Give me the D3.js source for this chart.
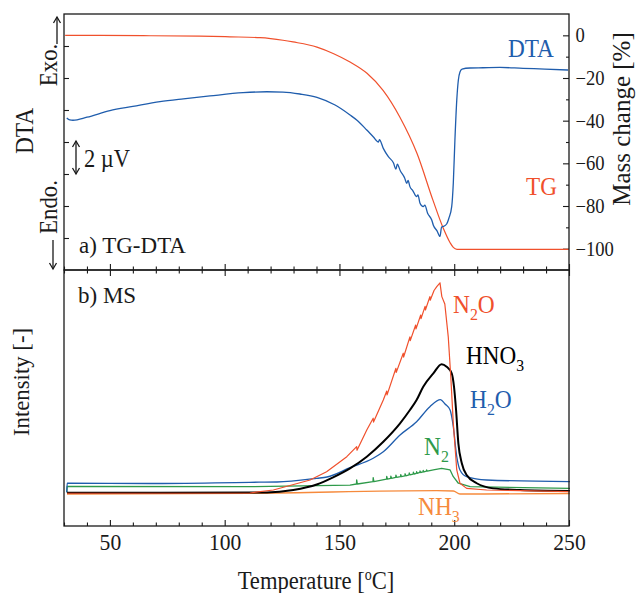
<!DOCTYPE html>
<html><head><meta charset="utf-8">
<script src="https://cdn.jsdelivr.net/npm/d3@7"></script>
<style>body{margin:0;background:#fff}svg{display:block}text{font-family:"Liberation Serif","Times New Roman",serif;}</style>
</head><body>
<script>
// ---------- data ----------
const tempTicks = [50, 100, 150, 200, 250];
const massTicks = [0, -20, -40, -60, -80, -100];
const dtaTicks = [2, 4, 6, 8, 10, 12, 14];

// TG: [temperature °C, mass change %]
const tgData = [[30.5,0],[45.7,0],[67.5,-0.2],[89.2,-0.4],[102.3,-0.7],[115.4,-1.1],[125.4,-2.3],[129.8,-3.1],[140.2,-5.5],[147.5,-8.6],[154.6,-12.5],[162.0,-17.8],[169.0,-25.8],[176.4,-38.5],[183.8,-55.4],[190.8,-77.5],[195.1,-90.1],[198.2,-97.2],[199.6,-99.4],[201.2,-100.3],[250,-100.3]];

// DTA: [temperature °C, signal µV (arbitrary offset)]
const dtaData = [[31.2,9.5],[32.5,9.38],[33.9,9.36],[40,9.55],[50.0,9.96],[60,10.22],[71.8,10.52],[82,10.7],[93.6,10.88],[108,11.08],[118.4,11.14],[125.4,11.12],[132.8,11.0],[140.2,10.79],[148.1,10.31],[154.6,9.69],[157.5,9.375],[161.9,8.75],[164.7,8.33],[167.0,8.0],[167.4,8.15],[169.1,7.6],[171.3,7.08],[173.5,6.7],[174.6,6.3],[175.2,6.62],[176.5,6.2],[178.4,5.75],[179.3,5.42],[179.9,5.6],[180.7,5.21],[182.0,4.95],[183.6,4.58],[184.2,4.7],[185.1,4.17],[186.5,3.96],[187.2,4.05],[188.4,3.55],[190.2,3.125],[190.9,2.8],[192.5,2.45],[193.8,2.1],[194.5,2.69],[195.2,2.72],[196.7,2.875],[197.7,3.25],[198.9,3.96],[199.6,5.44],[200.3,8.125],[201.1,10.6],[201.8,11.875],[202.5,12.375],[203.4,12.56],[206.9,12.625],[212.5,12.64],[219.9,12.66],[230,12.6],[239.5,12.56],[249.6,12.5]];

// MS intensities: [temperature °C, intensity (a.u.)]
const n2oData = [[31.3,12.8],[111.0,12.9],[121.2,14.06],[137.2,17.97],[144.4,21.21],[153.2,27.07],[157.5,31.0],[157.65,29.6],[161.9,37.5],[164.7,42.1],[164.85,40.6],[169.1,49.2],[170.6,52.7],[170.75,51.2],[174.6,61.6],[174.75,60.0],[177.8,67.5],[177.95,66.0],[180.7,73.9],[180.85,72.4],[183.2,78.5],[183.35,77.0],[185.4,82.4],[185.55,81.0],[187.3,85.8],[187.45,84.4],[189.4,89.6],[189.55,88.2],[191.2,92.0],[192.4,93.5],[193.8,95.0],[194.6,89.6],[195.9,86.7],[197.4,73.9],[198.5,58.3],[199.6,40.1],[201.1,21.9],[202.5,16.7],[205.4,14.7],[214.1,14.06],[250.4,13.4]];
const hno3Data = [[31.3,13.0],[118.4,13.1],[129.9,14.06],[140.1,16.2],[147.0,18.9],[154.6,22.5],[161.9,27.07],[169.1,32.9],[176.4,40.1],[180.7,45.3],[183.6,49.2],[186.5,54.4],[190.9,59.6],[194.5,63.2],[196.7,62.2],[198.9,59.6],[199.9,54.4],[200.8,45.3],[201.8,32.3],[203.3,24.5],[205.4,19.9],[209.8,16.7],[217.0,14.7],[228.7,14.06],[250.4,13.7]];
const h2oData = [[31.2,13.2],[31.4,16.7],[67.5,16.6],[111.0,17.07],[122.8,17.19],[140.1,18.63],[144.6,19.14],[154.6,22.77],[164.7,26.45],[169.1,29.02],[176.4,35.55],[183.6,40.74],[189.4,46.6],[194.0,49.4],[196.0,47.66],[198.2,45.3],[199.6,38.8],[201.1,27.07],[202.5,21.9],[205.4,19.26],[214.1,17.97],[250.4,17.3]];
const n2Data = [[31.2,13.2],[31.4,15.5],[111.0,15.35],[154.6,16.0],[157.4,16.4],[157.5,18.0],[157.8,16.4],[164.6,17.3],[164.7,18.9],[165.0,17.3],[170.5,18.3],[170.6,19.4],[170.9,18.3],[172.3,18.6],[172.4,19.5],[172.7,18.6],[174.5,19.0],[174.6,19.9],[174.9,19.0],[176.6,19.3],[176.7,20.1],[177.0,19.3],[178.5,19.6],[178.6,20.4],[178.9,19.6],[180.3,20.0],[180.4,20.7],[180.7,20.0],[182.1,20.3],[182.2,21.0],[182.5,20.3],[183.5,20.6],[183.6,21.2],[183.9,20.6],[185.0,20.9],[185.1,21.5],[185.4,20.9],[186.4,21.1],[186.5,21.7],[186.8,21.1],[187.9,21.4],[188.0,21.9],[188.3,21.4],[190.9,21.9],[194.5,22.5],[198.2,21.9],[199.6,19.26],[201.8,16.7],[206.9,15.35],[250.4,14.7]];
const nh3Data = [[31.3,12.5],[111.0,12.77],[192.4,13.8],[199.6,13.7],[202.5,12.5],[250.4,12.7]];

// ---------- layout ----------
const W = 638, H = 593;
const L = 64, R = 569, T1 = 14, MID = 270, B2 = 526;
const RED = "#F0502C", BLUE = "#1F5DAD", GREEN = "#2E9A4A", ORANGE = "#F68A3C", INK = "#1a1a1a";

const svg = d3.select("body").append("svg").attr("width", W).attr("height", H);

const x = d3.scaleLinear().domain([30, 250]).range([L, R]);
const yTG = d3.scaleLinear().domain([-110, 10]).range([MID, T1]);
const yDTA = d3.scaleLinear().domain([0, 16]).range([MID, T1]);
const yMS = d3.scaleLinear().domain([0, 100]).range([B2, MID]);

const minorT = d3.range(30, 251, 10).filter(v => v % 50 !== 0);

function styleAxis(g) {
  g.select(".domain").remove();
  g.selectAll(".tick line").attr("stroke", INK).attr("stroke-width", 1.1);
  g.selectAll("text").attr("fill", INK);
}

// top panel bottom edge (ticks up)
svg.append("g").attr("transform", `translate(0,${MID})`)
  .call(d3.axisBottom(x).tickValues(tempTicks).tickSize(-6).tickFormat("")).call(styleAxis);
svg.append("g").attr("transform", `translate(0,${MID})`)
  .call(d3.axisBottom(x).tickValues(minorT).tickSize(-3.5).tickFormat("")).call(styleAxis);
// bottom panel top edge (ticks down)
svg.append("g").attr("transform", `translate(0,${MID})`)
  .call(d3.axisTop(x).tickValues(tempTicks).tickSize(-6).tickFormat("")).call(styleAxis);
svg.append("g").attr("transform", `translate(0,${MID})`)
  .call(d3.axisTop(x).tickValues(minorT).tickSize(-3.5).tickFormat("")).call(styleAxis);
// bottom panel bottom edge with labels
const xb = svg.append("g").attr("transform", `translate(0,${B2})`)
  .call(d3.axisBottom(x).tickValues(tempTicks).tickSize(-6).tickPadding(7).tickFormat(d3.format("d"))).call(styleAxis);
xb.selectAll("text").attr("font-size", 24).attr("font-family", '"Liberation Serif","Times New Roman",serif').attr("transform", "scale(0.9,1)");
svg.append("g").attr("transform", `translate(0,${B2})`)
  .call(d3.axisBottom(x).tickValues(minorT).tickSize(-3.5).tickFormat("")).call(styleAxis);

// left DTA ticks (no labels)
svg.append("g").attr("transform", `translate(${L},0)`)
  .call(d3.axisLeft(yDTA).tickValues(dtaTicks).tickSize(-5).tickFormat("")).call(styleAxis);
// right TG axis
const yr = svg.append("g").attr("transform", `translate(${R},0)`)
  .call(d3.axisRight(yTG).tickValues(massTicks).tickSize(-6).tickPadding(7).tickFormat(d3.format("d"))).call(styleAxis);
yr.selectAll("text").attr("font-size", 20).attr("font-family", '"Liberation Serif","Times New Roman",serif').attr("transform", "scale(0.93,1)");
svg.append("g").attr("transform", `translate(${R},0)`)
  .call(d3.axisRight(yTG).tickValues([-10, -30, -50, -70, -90]).tickSize(-3).tickFormat("")).call(styleAxis);

// ---------- lines ----------
function drawLine(data, ys, color, w, curve) {
  svg.append("path").datum(data)
    .attr("fill", "none").attr("stroke", color).attr("stroke-width", w).attr("stroke-linejoin", "round")
    .attr("d", d3.line().x(d => x(d[0])).y(d => ys(d[1])).curve(curve || d3.curveMonotoneX));
}
drawLine(tgData, yTG, RED, 1.2);
drawLine(dtaData, yDTA, BLUE, 1.3);

drawLine(nh3Data, yMS, ORANGE, 1.4);
drawLine(n2Data, yMS, GREEN, 1.3, d3.curveLinear);
drawLine(h2oData, yMS, BLUE, 1.3);
drawLine(hno3Data, yMS, "#000", 2.0);
drawLine(n2oData, yMS, RED, 1.2, d3.curveLinear);

// ---------- frames ----------
svg.append("rect").attr("x", L).attr("y", T1).attr("width", R - L).attr("height", MID - T1)
  .attr("fill", "none").attr("stroke", INK).attr("stroke-width", 1.3);
svg.append("rect").attr("x", L).attr("y", MID).attr("width", R - L).attr("height", B2 - MID)
  .attr("fill", "none").attr("stroke", INK).attr("stroke-width", 1.3);

// ---------- text ----------
function label(txt, tx, ty, opts) {
  const o = Object.assign({size: 24, sx: 1, rot: 0, anchor: "start", color: INK}, opts || {});
  const t = svg.append("text")
    .attr("transform", `translate(${tx},${ty}) rotate(${o.rot}) scale(${o.sx},1)`)
    .attr("font-size", o.size).attr("fill", o.color).attr("text-anchor", o.anchor);
  if (typeof txt === "string") t.text(txt);
  else txt.forEach(p => {
    const s = t.append("tspan").text(p.t);
    if (p.sub) s.attr("font-size", o.size * 0.68).attr("dy", o.size * 0.25);
    else if (p.sup) s.attr("font-size", o.size * 0.62).attr("dy", -o.size * 0.36);
    else if (p.back) s.attr("dy", p.back);
  });
  return t;
}

label("DTA", 33, 131, {size: 26, sx: 0.9, rot: -90, anchor: "middle"});
label("Exo.", 57, 65, {size: 26, sx: 0.88, rot: -90, anchor: "middle"});
label("Endo.", 57, 207, {size: 26, sx: 0.88, rot: -90, anchor: "middle"});
label("2 µV", 84, 167, {size: 25, sx: 0.9});
label("a) TG-DTA", 79, 253, {size: 23});
label("b) MS", 78, 303, {size: 23});
label("Intensity [-]", 29, 382, {size: 24, sx: 0.95, rot: -90, anchor: "middle"});
label("Mass change [%]", 630, 119, {size: 25, rot: -90, anchor: "middle"});
label([{t: "Temperature ["}, {t: "o", sup: true}, {t: "C]", back: 26 * 0.36}], 316, 589, {size: 26, sx: 0.87, anchor: "middle"});

label("DTA", 508, 57, {size: 25, sx: 0.93, color: BLUE});
label("TG", 526, 195, {size: 25, sx: 0.93, color: RED});

label([{t: "N"}, {t: "2", sub: true}, {t: "O", back: -26 * 0.25}], 453, 313, {size: 26, sx: 0.9, color: RED});
label([{t: "HNO"}, {t: "3", sub: true}], 466, 364, {size: 26, sx: 0.89, color: "#000"});
label([{t: "H"}, {t: "2", sub: true}, {t: "O", back: -26 * 0.25}], 470, 408, {size: 26, sx: 0.9, color: BLUE});
label([{t: "N"}, {t: "2", sub: true}], 424, 455, {size: 26, sx: 0.9, color: GREEN});
label([{t: "NH"}, {t: "3", sub: true}], 418, 515, {size: 26, sx: 0.9, color: ORANGE});

// ---------- arrows ----------
function arrow(x0, y0, x1, y1, both) {
  const a = svg.append("g").attr("stroke", INK).attr("stroke-width", 1.3).attr("fill", "none");
  a.append("line").attr("x1", x0).attr("y1", y0).attr("x2", x1).attr("y2", y1);
  const head = (px, py, dir) => a.append("path").attr("d", `M${px - 3.5},${py - dir * 6}L${px},${py}L${px + 3.5},${py - dir * 6}`);
  head(x1, y1, y1 > y0 ? 1 : -1);
  if (both) head(x0, y0, y0 > y1 ? 1 : -1);
}
arrow(57, 44, 57, 17);
arrow(53, 240, 53, 269);
arrow(76, 174, 76, 141, true);
</script>
</body></html>
